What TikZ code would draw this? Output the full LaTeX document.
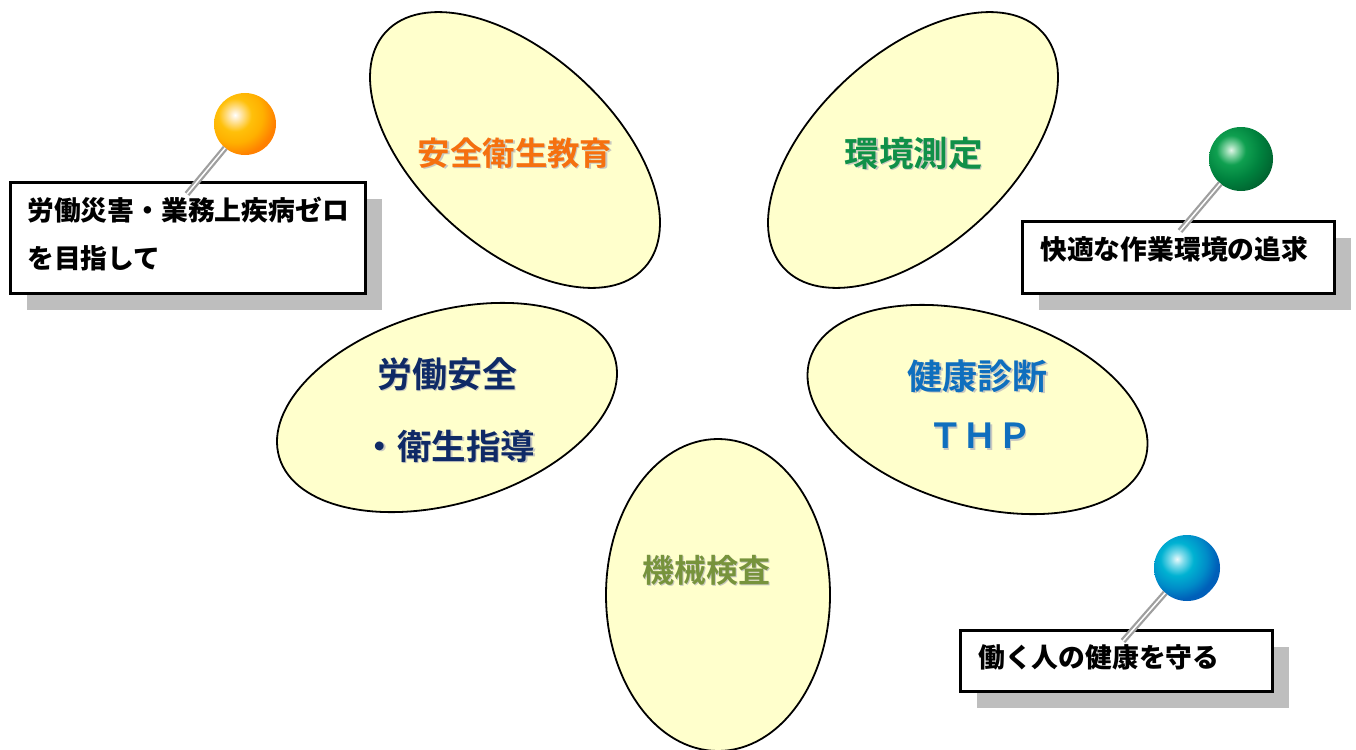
\documentclass[tikz,border=0pt]{standalone}
\usepackage{fontspec}
\setmainfont{Noto Sans CJK JP}[BoldFont={* Bold}]
\newfontfamily\heavyfont{Noto Sans CJK JP Black}
\usetikzlibrary{shapes.geometric,shadows}
\definecolor{petalfill}{HTML}{FFFFCC}
\definecolor{shadowgray}{HTML}{BEBEBE}
\definecolor{textshadow}{HTML}{C8C8C0}
\definecolor{orangetext}{HTML}{F5700F}
\definecolor{greentext}{HTML}{109048}
\definecolor{navytext}{HTML}{0F2A66}
\definecolor{bluetext}{HTML}{0F6FBE}
\definecolor{olivetext}{HTML}{77933C}
% ball colours
\definecolor{orangeA}{HTML}{FFEBBE}
\definecolor{orangeB}{HTML}{FFC00A}
\definecolor{orangeC}{HTML}{FFB000}
\definecolor{orangeD}{HTML}{FF8000}
\definecolor{greenA}{HTML}{E1F5E8}
\definecolor{greenB}{HTML}{8CD7AA}
\definecolor{greenC}{HTML}{0FA050}
\definecolor{greenD}{HTML}{00823E}
\definecolor{greenE}{HTML}{006430}
\definecolor{blueA}{HTML}{EBFAFC}
\definecolor{blueB}{HTML}{82DCEB}
\definecolor{blueC}{HTML}{00B2D2}
\definecolor{blueD}{HTML}{008CC8}
\definecolor{blueE}{HTML}{005FB9}
\pgfdeclareradialshading{orangeball}{\pgfpointorigin}{color(0bp)=(white);color(2.5bp)=(orangeA);color(9bp)=(orangeB);color(15bp)=(orangeC);color(22bp)=(orangeD);color(50bp)=(orangeD)}
\pgfdeclareradialshading{greenball}{\pgfpointorigin}{color(0bp)=(greenA);color(3bp)=(greenB);color(8bp)=(greenC);color(16bp)=(greenD);color(24bp)=(greenE);color(50bp)=(greenE)}
\pgfdeclareradialshading{blueball}{\pgfpointorigin}{color(0bp)=(blueA);color(3.5bp)=(blueB);color(9bp)=(blueC);color(16bp)=(blueD);color(22bp)=(blueE);color(50bp)=(blueE)}
\newcommand{\petallabel}[5]{% name, position, size, colour, text
	\node[petal text,font=\bfseries\fontsize{#3}{#3}\selectfont,text=textshadow,xshift=1.5pt,yshift=-1.5pt] (#1 s) at #2 {#5};
	\node[petal text,font=\bfseries\fontsize{#3}{#3}\selectfont,text=#4] (#1) at #2 {#5};
}
\begin{document}
\begin{tikzpicture}
	[x=1pt,y=-1pt,
	petal/.style={ellipse,draw=black,line width=1.8pt,fill=petalfill,inner sep=0pt,outer sep=0pt},
	petal text/.style={inner sep=0pt},
	note/.style={draw=black,line width=3pt,fill=white,inner sep=0pt,outer sep=0pt,
		drop shadow={shadow xshift=16pt,shadow yshift=-16pt,fill=shadowgray,opacity=1}},
	note text/.style={font=\heavyfont\fontsize{26.8}{48}\selectfont,inner sep=0pt,anchor=west,align=left},
	pin ball/.style={circle,inner sep=0pt,outer sep=0pt,
		path picture={\shade[shading=#1] ([shift={(-10,-9)}]path picture bounding box.center) circle (46pt);}},
	needle/.style={line width=6pt,draw=gray!75},
	needle light/.style={line width=1.5pt,draw=white}]
	\useasboundingbox (0,0) rectangle (1356,749);

	% petals
	\node[petal,minimum width=350pt,minimum height=194pt,rotate=-42.3] (safety) at (515,150) {};
	\node[petal,minimum width=350pt,minimum height=194pt,rotate=42.3] (measure) at (913,150) {};
	\node[petal,minimum width=350pt,minimum height=192pt,rotate=16.5] (guidance) at (447,407.5) {};
	\node[petal,minimum width=350pt,minimum height=192pt,rotate=-16.5] (checkup) at (977.5,409.5) {};
	\node[petal,minimum width=224pt,minimum height=312pt] (machine) at (718,595) {};

	\petallabel{safety label}{(515,153)}{32.4}{orangetext}{安全衛生教育}
	\petallabel{measure label}{(913.5,153)}{34.5}{greentext}{環境測定}
	\petallabel{guidance one}{(447,374)}{35}{navytext}{労働安全}
	\petallabel{guidance two}{(449,446)}{34.5}{navytext}{・衛生指導}
	\petallabel{checkup one}{(977.5,376)}{35}{bluetext}{健康診断}
	\petallabel{checkup two}{(980,436)}{34.5}{bluetext}{ＴＨＰ}
	\petallabel{machine label}{(706,570)}{32}{olivetext}{機械検査}

	% notes
	\node[note,minimum width=355pt,minimum height=111pt] (note a) at (188,238) {};
	\node[note,minimum width=312pt,minimum height=72pt] (note b) at (1178.5,257.5) {};
	\node[note,minimum width=312pt,minimum height=61pt] (note c) at (1116.5,661) {};

	\node[note text] (note a text) at (27,234) {労働災害・業務上疾病ゼロ\\を目指して};
	\node[note text] (note b text) at (1040,249) {快適な作業環境の追求};
	\node[note text] (note c text) at (978,657) {働く人の健康を守る};

	% pins
	\coordinate (tip a) at (187,194);
	\coordinate (tip b) at (1180,231);
	\coordinate (tip c) at (1123,641);
	\node[pin ball=orangeball,minimum size=62pt] (ball a) at (245,124) {};
	\node[pin ball=greenball,minimum size=64pt] (ball b) at (1241,159) {};
	\node[pin ball=blueball,minimum size=66pt] (ball c) at (1187,568) {};

	\foreach \p in {a,b,c} {
		\draw[needle] (ball \p) -- (tip \p);
		\draw[needle light] (ball \p) -- (tip \p);
	}
\end{tikzpicture}
\end{document}
